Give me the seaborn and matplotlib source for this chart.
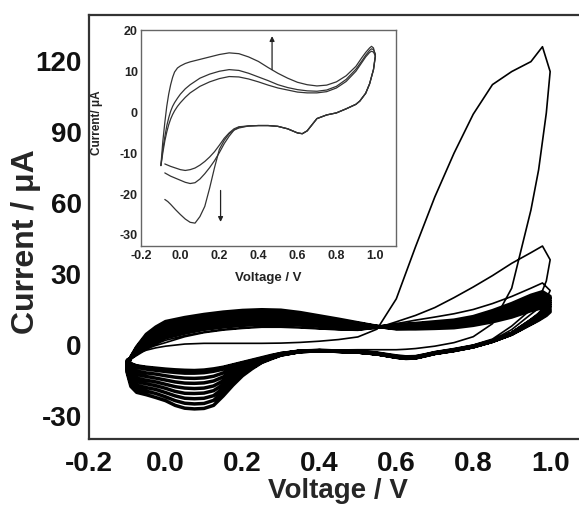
import pandas as pd
import matplotlib
matplotlib.use('Agg')
import matplotlib.pyplot as plt
import seaborn as sns

# potential grids (V) for the anodic and cathodic sweeps of the main plot
V_FWD = [-0.1, -0.09, -0.075, -0.05, -0.025, 0.0, 0.05, 0.1, 0.15, 0.2, 0.25, 0.3, 0.35,
         0.4, 0.45, 0.5, 0.55, 0.6, 0.65, 0.7, 0.75, 0.8, 0.85, 0.9, 0.95, 0.98, 1.0]
V_REV = [1.0, 0.99, 0.97, 0.95, 0.9, 0.85, 0.8, 0.75, 0.7, 0.675, 0.65, 0.625, 0.6,
         0.55, 0.5, 0.45, 0.4, 0.35, 0.3, 0.275, 0.25, 0.225, 0.2, 0.175, 0.15, 0.125,
         0.1, 0.075, 0.05, 0.025, 0.0, -0.025, -0.05, -0.075, -0.09, -0.1]

# first three cycles (uA)
c1_fwd = [-6.0, -5.0, -3.6, -2.2, -1.2, -0.5, 0.4, 0.7, 0.7, 0.7, 0.7, 0.8, 1.1,
          1.6, 2.3, 3.4, 6.7, 19.5, 41.5, 62.5, 81.0, 97.5, 110.0, 115.5, 119.7, 126.0, 115.5]
c1_rev = [115.5, 98.0, 74.0, 57.0, 24.0, 9.0, 3.5, 1.0, -0.5, -1.0, -1.5, -1.8, -2.0,
          -2.0, -2.0, -2.1, -2.2, -2.4, -3.2, -4.0, -5.0, -6.0, -7.0, -8.0, -9.0, -9.7,
          -10.2, -10.4, -10.3, -10.1, -9.8, -9.4, -9.0, -8.4, -7.5, -6.5]
c2_fwd = [-6.5, -5.2, -3.5, -1.5, -0.2, 1.0, 3.5, 5.2, 6.3, 7.0, 7.5, 7.5, 7.2,
          6.8, 6.4, 6.2, 7.2, 9.8, 12.5, 15.8, 20.0, 24.5, 29.3, 34.5, 39.0, 41.8, 36.0]
c2_rev = [36.0, 27.0, 19.0, 15.0, 8.0, 2.5, 0.0, -1.5, -2.8, -3.7, -4.5, -4.6, -4.2,
          -3.0, -2.4, -2.2, -2.2, -2.5, -3.4, -4.3, -5.3, -6.3, -7.3, -8.3, -9.3, -10.2,
          -10.8, -11.0, -11.0, -10.7, -10.3, -9.8, -9.3, -8.6, -7.6, -6.5]
c3_fwd = [-6.5, -5.0, -3.2, -1.2, 0.5, 2.0, 4.0, 5.5, 6.6, 7.3, 7.8, 7.8, 7.5,
          7.0, 6.6, 6.4, 7.2, 9.0, 10.5, 11.8, 13.2, 15.0, 17.5, 20.5, 24.0, 26.2, 23.0]
c3_rev = [23.0, 19.5, 15.5, 13.0, 6.5, 2.0, -0.3, -1.8, -3.0, -3.9, -4.8, -4.9, -4.5,
          -3.2, -2.6, -2.3, -2.2, -2.5, -3.5, -4.5, -5.5, -6.5, -7.5, -8.5, -9.5, -10.4,
          -11.0, -11.3, -11.3, -11.0, -10.5, -10.0, -9.5, -8.8, -7.8, -6.5]

# later cycles forming the dense band
band_fwd = [
    [-6.5, -5.5, -4.0, -1.5, 0.8, 3.0, 5.0, 6.6, 7.6, 8.3, 8.7, 8.7, 8.4, 7.9, 7.4, 7.1, 7.5, 8.6, 9.1, 9.8, 10.5, 12.0, 14.5, 17.5, 21.0, 22.5, 20.5],
    [-7.0, -5.5, -3.5, -0.6, 1.8, 4.0, 5.9, 7.5, 8.5, 9.2, 9.6, 9.6, 9.2, 8.5, 7.9, 7.4, 7.6, 8.3, 8.8, 9.4, 10.0, 11.5, 13.8, 16.7, 20.1, 21.6, 19.6],
    [-7.5, -5.4, -3.0, 0.4, 2.8, 5.0, 6.9, 8.4, 9.4, 10.1, 10.5, 10.4, 9.9, 9.2, 8.4, 7.8, 7.6, 8.0, 8.4, 9.0, 9.6, 10.9, 13.2, 15.9, 19.1, 20.6, 18.6],
    [-8.0, -5.4, -2.6, 1.3, 3.8, 6.0, 7.8, 9.3, 10.3, 11.0, 11.4, 11.3, 10.7, 9.8, 8.9, 8.1, 7.7, 7.8, 8.1, 8.6, 9.1, 10.4, 12.5, 15.1, 18.2, 19.7, 17.7],
    [-8.5, -5.3, -2.1, 2.2, 4.8, 7.0, 8.8, 10.2, 11.2, 11.9, 12.2, 12.1, 11.4, 10.4, 9.4, 8.4, 7.7, 7.5, 7.8, 8.2, 8.7, 9.9, 11.8, 14.2, 17.3, 18.6, 16.8],
    [-9.0, -5.3, -1.7, 3.0, 5.8, 8.0, 9.8, 11.1, 12.1, 12.8, 13.1, 13.0, 12.2, 11.1, 9.9, 8.7, 7.8, 7.3, 7.4, 7.8, 8.2, 9.3, 11.1, 13.4, 16.4, 17.7, 15.9],
    [-9.5, -5.2, -1.2, 3.8, 6.7, 9.0, 10.7, 12.0, 13.0, 13.7, 14.0, 13.8, 12.9, 11.7, 10.4, 9.1, 7.8, 7.0, 7.1, 7.4, 7.8, 8.8, 10.5, 12.6, 15.4, 16.8, 14.9],
    [-10.0, -5.0, -0.8, 4.5, 7.6, 9.9, 11.6, 12.9, 13.9, 14.6, 14.9, 14.7, 13.7, 12.3, 10.9, 9.4, 7.9, 6.8, 6.8, 7.0, 7.3, 8.3, 9.8, 11.8, 14.5, 15.8, 14.0],
]
band_rev = [
    [20.5, 16.5, 13.0, 10.5, 5.0, 1.8, -0.5, -2.0, -3.3, -4.2, -5.0, -5.2, -4.8, -3.5, -2.8, -2.5, -2.3, -2.5, -3.6, -4.6, -5.8, -6.9, -8.0, -9.1, -10.2, -11.1, -11.7, -11.9, -11.9, -11.6, -11.2, -10.7, -10.2, -9.5, -8.6, -7.2],
    [19.6, 15.9, 12.6, 10.3, 4.9, 1.8, -0.5, -2.1, -3.3, -4.3, -5.1, -5.3, -4.9, -3.6, -2.8, -2.5, -2.3, -2.6, -3.7, -4.8, -6.0, -7.3, -8.7, -10.2, -11.8, -13.2, -13.9, -14.1, -14.0, -13.6, -13.0, -12.3, -11.8, -11.0, -9.9, -7.8],
    [18.6, 15.3, 12.2, 10.0, 4.9, 1.7, -0.6, -2.1, -3.4, -4.3, -5.2, -5.4, -5.0, -3.6, -2.9, -2.6, -2.4, -2.6, -3.8, -5.0, -6.2, -7.8, -9.4, -11.3, -13.5, -15.2, -16.0, -16.2, -16.1, -15.6, -14.8, -14.0, -13.3, -12.5, -11.2, -8.4],
    [17.7, 14.7, 11.8, 9.8, 4.8, 1.7, -0.6, -2.2, -3.4, -4.4, -5.3, -5.5, -5.0, -3.7, -2.9, -2.6, -2.4, -2.7, -3.9, -5.2, -6.5, -8.3, -10.2, -12.5, -15.1, -17.3, -18.2, -18.4, -18.2, -17.6, -16.6, -15.6, -14.9, -14.0, -12.5, -9.0],
    [16.8, 14.1, 11.5, 9.5, 4.7, 1.6, -0.7, -2.2, -3.5, -4.4, -5.3, -5.5, -5.1, -3.7, -3.0, -2.7, -2.4, -2.7, -4.0, -5.3, -6.7, -8.8, -10.9, -13.6, -16.7, -19.3, -20.3, -20.5, -20.4, -19.6, -18.3, -17.2, -16.4, -15.5, -13.8, -9.6],
    [15.9, 13.6, 11.1, 9.3, 4.6, 1.6, -0.7, -2.3, -3.5, -4.5, -5.4, -5.6, -5.1, -3.8, -3.0, -2.7, -2.5, -2.8, -4.1, -5.5, -7.0, -9.2, -11.6, -14.8, -18.3, -21.4, -22.5, -22.7, -22.5, -21.5, -20.1, -18.8, -18.0, -17.0, -15.0, -10.2],
    [14.9, 13.0, 10.8, 9.0, 4.6, 1.5, -0.8, -2.3, -3.6, -4.5, -5.4, -5.6, -5.2, -3.8, -3.0, -2.7, -2.5, -2.8, -4.2, -5.6, -7.2, -9.6, -12.3, -15.9, -19.9, -23.4, -24.7, -24.9, -24.6, -23.5, -21.9, -20.5, -19.5, -18.5, -16.3, -10.8],
    [14.0, 12.5, 10.5, 8.8, 4.5, 1.5, -0.8, -2.4, -3.6, -4.6, -5.5, -5.7, -5.2, -3.8, -3.0, -2.7, -2.5, -2.8, -4.3, -5.8, -7.4, -10.0, -13.0, -17.0, -21.5, -25.5, -26.8, -27.0, -26.7, -25.5, -23.5, -22.2, -21.0, -20.0, -17.5, -11.5],
]

# inset: three consecutive cycles
IV_FWD = [-0.1, -0.095, -0.09, -0.08, -0.07, -0.06, -0.05, -0.04, -0.03, -0.015, 0.0,
          0.025, 0.05, 0.1, 0.15, 0.2, 0.25, 0.3, 0.35, 0.4, 0.45, 0.5, 0.55, 0.6,
          0.65, 0.7, 0.75, 0.8, 0.85, 0.9, 0.93, 0.95, 0.97, 0.98, 0.99, 1.0]
IV_REV = [1.0, 0.99, 0.97, 0.95, 0.92, 0.9, 0.85, 0.8, 0.75, 0.7, 0.675, 0.65, 0.625,
          0.6, 0.575, 0.55, 0.5, 0.45, 0.4, 0.35, 0.3, 0.275, 0.25, 0.225, 0.2, 0.175,
          0.15, 0.125, 0.1, 0.075, 0.05, 0.025, 0.0, -0.025, -0.05, -0.065, -0.08]
ins_a_fwd = [-13.0, -10.0, -7.0, -2.5, 1.5, 4.5, 6.8, 8.6, 9.9, 10.9, 11.4,
             12.0, 12.4, 13.0, 13.6, 14.2, 14.6, 14.4, 13.6, 12.5, 11.0, 9.6, 8.4, 7.4,
             6.8, 6.5, 6.7, 7.5, 9.0, 11.3, 13.4, 14.7, 15.8, 16.2, 15.8, 13.8]
ins_b_fwd = [-13.0, -11.0, -9.0, -6.0, -3.3, -1.3, 0.3, 1.5, 2.4, 3.5, 4.5,
             5.8, 6.8, 8.4, 9.4, 10.1, 10.5, 10.3, 9.6, 8.7, 7.8, 6.8, 6.1, 5.6,
             5.3, 5.2, 5.5, 6.4, 8.1, 10.6, 12.6, 14.0, 15.2, 15.6, 15.4, 14.3]
ins_c_fwd = [-13.0, -11.5, -9.8, -7.0, -4.8, -3.0, -1.6, -0.5, 0.4, 1.5, 2.4,
             3.7, 4.8, 6.4, 7.5, 8.3, 8.8, 8.7, 8.2, 7.5, 6.7, 6.0, 5.5, 5.0,
             4.8, 4.8, 5.1, 6.0, 7.6, 10.1, 12.2, 13.6, 14.7, 15.0, 14.8, 13.8]
ins_a_rev = [13.8, 10.5, 7.0, 4.7, 2.8, 2.0, 0.9, -0.1, -0.6, -1.5, -3.0, -4.5, -5.2,
             -5.0, -4.5, -4.0, -3.4, -3.2, -3.2, -3.3, -3.8, -4.3, -5.2, -6.8, -9.0, -13.5,
             -18.5, -23.0, -25.5, -27.1, -26.9, -26.1, -25.0, -23.8, -22.5, -21.8, -21.3]
ins_b_rev = [14.3, 10.5, 7.0, 4.7, 2.8, 2.0, 0.9, -0.1, -0.6, -1.5, -3.0, -4.5, -5.2,
             -5.0, -4.5, -4.0, -3.4, -3.2, -3.2, -3.3, -3.6, -4.3, -5.8, -7.6, -9.8, -11.8,
             -13.5, -15.0, -16.3, -17.2, -17.4, -17.1, -16.6, -16.1, -15.6, -15.2, -14.8]
ins_c_rev = [13.8, 10.5, 7.0, 4.7, 2.8, 2.0, 0.9, -0.1, -0.6, -1.5, -3.0, -4.5, -5.2,
             -5.0, -4.5, -4.0, -3.4, -3.2, -3.2, -3.3, -3.5, -4.0, -5.0, -6.3, -8.0, -9.6,
             -10.9, -12.0, -12.9, -13.6, -14.0, -14.2, -14.0, -13.6, -13.2, -12.9, -12.6]

# arrows in the inset: (x, y_start, y_end)
arrow_up = (0.47, 10.5, 18.7)
arrow_down = (0.206, -19.1, -26.8)


def trace(segments):
    vv, ii = [], []
    for v, i in segments:
        assert len(v) == len(i)
        vv += v
        ii += i
    return pd.DataFrame({'V': vv, 'I': ii})


early = trace([(V_FWD, c1_fwd), (V_REV, c1_rev), (V_FWD, c2_fwd), (V_REV, c2_rev),
               (V_FWD, c3_fwd), (V_REV, c3_rev)])
band_segs = []
for f, r in zip(band_fwd, band_rev):
    band_segs += [(V_FWD, f), (V_REV, r)]
band = trace(band_segs)

parts = []
for name, f, r in [('a', ins_a_fwd, ins_a_rev), ('b', ins_b_fwd, ins_b_rev),
                   ('c', ins_c_fwd, ins_c_rev)]:
    d = trace([(IV_FWD, f), (IV_REV, r)])
    d['cycle'] = name
    parts.append(d)
inset = pd.concat(parts, ignore_index=True)

sns.set_theme(style='white')
plt.rcParams['font.family'] = ['Liberation Sans', 'DejaVu Sans']
plt.rcParams['font.weight'] = 'bold'
plt.rcParams['axes.unicode_minus'] = False

W, H = 579, 509
fig = plt.figure(figsize=(W / 100, H / 100), dpi=100)
ax = fig.add_axes([88.6 / W, 1 - 438.5 / H, 1 - 88.6 / W, (438.5 - 15) / H])

sns.lineplot(data=band, x='V', y='I', sort=False, estimator=None,
             color='black', lw=2.5, ax=ax)
sns.lineplot(data=early, x='V', y='I', sort=False, estimator=None,
             color='black', lw=1.2, ax=ax)
ax.set_xlim(-0.2, 1.075)
ax.set_ylim(-39.5, 139.4)
ax.set_xticks([-0.2, 0.0, 0.2, 0.4, 0.6, 0.8, 1.0])
ax.set_xticklabels(['-0.2', '0.0', '0.2', '0.4', '0.6', '0.8', '1.0'])
ax.set_yticks([-30, 0, 30, 60, 90, 120])
ax.tick_params(axis='x', direction='in', length=5, width=1.2, pad=9,
               labelsize=20, colors='#111')
ax.tick_params(axis='y', direction='out', length=3.5, width=1.2, pad=1.5,
               labelsize=20, colors='#111')
for t in ax.get_xticklabels() + ax.get_yticklabels():
    t.set_fontweight('bold')
for s in ['left', 'top', 'bottom']:
    ax.spines[s].set_color('#333')
    ax.spines[s].set_linewidth(1.6)
ax.spines['right'].set_visible(False)
ax.set_xlabel('Voltage / V', fontsize=20, fontweight='bold')
ax.set_ylabel('Current / μA', fontsize=23, fontweight='bold')
ax.xaxis.set_label_coords(0.5086, -0.093)
ax.yaxis.set_label_coords(-0.097, 0.464)

# inset
axi = fig.add_axes([141.4 / W, 1 - 246 / H, (395.9 - 141.4) / W, (246 - 30) / H])
sns.lineplot(data=inset, x='V', y='I', units='cycle', sort=False, estimator=None,
             color='#333', lw=0.9, ax=axi)
axi.set_xlim(-0.2, 1.105)
axi.set_ylim(-32.7, 20.2)
axi.set_xticks([-0.2, 0.0, 0.2, 0.4, 0.6, 0.8, 1.0])
axi.set_xticklabels(['-0.2', '0.0', '0.2', '0.4', '0.6', '0.8', '1.0'])
axi.set_yticks([-30, -20, -10, 0, 10, 20])
axi.tick_params(axis='x', direction='in', length=3, width=0.8, pad=3,
                labelsize=9, colors='#222')
axi.tick_params(axis='y', direction='out', length=2, width=0.8, pad=0.5,
                labelsize=9, colors='#222')
for t in axi.get_xticklabels() + axi.get_yticklabels():
    t.set_fontweight('bold')
for s in axi.spines.values():
    s.set_color('#666')
    s.set_linewidth(1.0)
axi.set_xlabel('Voltage / V', fontsize=9.5, fontweight='bold', color='#222')
axi.set_ylabel('Current/ μA', fontsize=8.5, fontweight='bold', color='#222')
axi.xaxis.set_label_coords(0.497, -0.12)
axi.yaxis.set_label_coords(-0.15, 0.569)

for x, y0, y1 in [arrow_up, arrow_down]:
    axi.annotate('', xy=(x, y1), xytext=(x, y0),
                 arrowprops=dict(arrowstyle='-|>', color='#222', lw=0.9,
                                 mutation_scale=7, shrinkA=0, shrinkB=0))

fig.savefig('out.png', dpi=100)
plt.close(fig)
